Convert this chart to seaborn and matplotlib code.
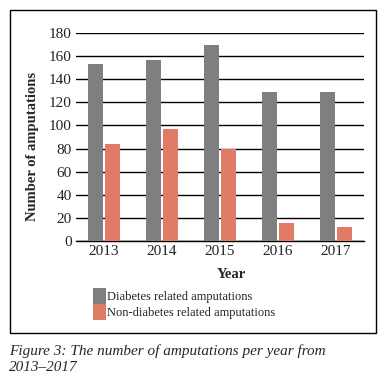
import matplotlib
matplotlib.use("Agg")
import matplotlib.pyplot as plt
import seaborn as sns
import pandas as pd
from matplotlib.patches import Rectangle, Patch

years = ["2013", "2014", "2015", "2016", "2017"]
diabetes = [153, 157, 170, 129, 129]
non_diabetes = [84, 97, 80, 16, 12]
series_names = ["Diabetes related amputations", "Non-diabetes related amputations"]
colors = ["#7f7f82", "#e07c65"]
yticks = [0, 20, 40, 60, 80, 100, 120, 140, 160, 180]

df = pd.DataFrame({
    "Year": years * 2,
    "Count": diabetes + non_diabetes,
    "Type": [series_names[0]] * len(years) + [series_names[1]] * len(years),
})

sns.set_theme(style="white")
plt.rcParams["font.family"] = ["Liberation Serif", "DejaVu Serif"]

fig = plt.figure(figsize=(3.81, 3.78), dpi=100)
ax = fig.add_axes([0.1995, 0.3624, 0.7555, 0.5503])

sns.barplot(data=df, x="Year", y="Count", hue="Type", palette=colors,
            width=0.57, gap=0.1, ax=ax, legend=False, zorder=3,
            saturation=1, linewidth=0, edgecolor="none")

ax.set_ylim(0, 180)
ax.set_xlim(-0.48, 4.48)
ax.set_yticks(yticks)
ax.set_yticklabels([str(t) for t in yticks], fontsize=11)
ax.set_xticks(range(len(years)))
ax.set_xticklabels(years, fontsize=11)
ax.tick_params(axis="both", length=0, pad=3, colors="#222222")
ax.yaxis.grid(True, color="black", linewidth=1.0, zorder=0)
ax.xaxis.grid(False)
for s in ax.spines.values():
    s.set_visible(False)
ax.spines["bottom"].set_visible(True)
ax.spines["bottom"].set_color("black")
ax.spines["bottom"].set_linewidth(1.0)
ax.set_axisbelow(True)

ax.set_xlabel("Year", fontsize=10.5, fontweight="bold")
ax.xaxis.set_label_coords(0.54, -0.13)
ax.set_ylabel("Number of amputations", fontsize=10.5, fontweight="bold")
ax.yaxis.set_label_coords(-0.13, 0.457)

handles = [Patch(facecolor=c, edgecolor="none") for c in colors]
fig.legend(handles, series_names, loc="upper left",
           bbox_to_anchor=(0.243, 0.237), frameon=False, fontsize=9.0,
           handlelength=1.05, handleheight=1.5, handletextpad=0.1,
           labelspacing=0.05, borderpad=0, borderaxespad=0)

fig.patches.append(Rectangle((0.026, 0.119), 0.9606, 0.8545,
                             transform=fig.transFigure, fill=False,
                             edgecolor="black", linewidth=1.0))

fig.text(0.024, 0.0714, "Figure 3: The number of amputations per year from",
         fontsize=11, style="italic", ha="left", va="center")
fig.text(0.024, 0.029, "2013\u20132017",
         fontsize=11, style="italic", ha="left", va="center")

fig.savefig("out.png", dpi=100)
